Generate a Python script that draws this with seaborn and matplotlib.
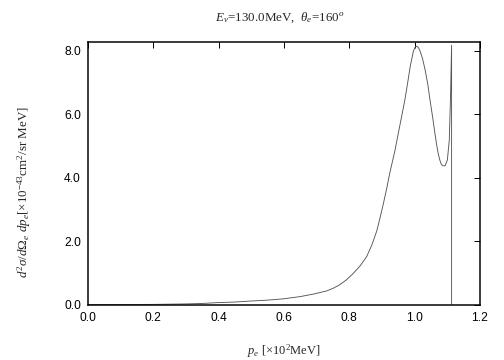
import matplotlib
matplotlib.use("Agg")
import matplotlib.pyplot as plt
import seaborn as sns
import pandas as pd

p_e = [0.0, 0.1, 0.2, 0.3, 0.35, 0.394, 0.45, 0.496, 0.55, 0.598, 0.649, 0.69, 0.731,
       0.750, 0.770, 0.790, 0.812, 0.833, 0.853, 0.869, 0.884, 0.894, 0.904, 0.914, 0.924,
       0.940, 0.950, 0.960, 0.970, 0.978, 0.986, 0.996, 1.001, 1.006, 1.011, 1.016,
       1.024, 1.032, 1.040, 1.047, 1.055, 1.062, 1.067, 1.072, 1.077, 1.082, 1.088,
       1.093, 1.100, 1.106, 1.110, 1.113, 1.113]
sigma = [0.0, 0.0, 0.005, 0.02, 0.035, 0.06, 0.08, 0.11, 0.14, 0.18, 0.25, 0.33, 0.43,
         0.51, 0.62, 0.77, 0.98, 1.22, 1.51, 1.88, 2.32, 2.73, 3.17, 3.64, 4.15,
         4.87, 5.40, 5.92, 6.45, 6.95, 7.48, 7.98, 8.10, 8.14, 8.10, 8.00,
         7.75, 7.39, 6.95, 6.44, 5.90, 5.39, 5.05, 4.76, 4.55, 4.41, 4.37,
         4.37, 4.55, 5.18, 6.65, 8.17, 0.0]

df = pd.DataFrame({"p": p_e, "s": sigma})

sns.set_style("white")
serif = "Liberation Serif"
plt.rcParams["mathtext.fontset"] = "custom"
plt.rcParams["mathtext.rm"] = serif
plt.rcParams["mathtext.it"] = serif + ":italic"

fig = plt.figure(figsize=(7, 5), dpi=72)
ax = fig.add_axes([0.1746, 0.154, 0.7778, 0.7293])
sns.lineplot(data=df, x="p", y="s", sort=False, estimator=None, color="#555555",
             linewidth=0.9, ax=ax)

ax.set_xlim(0, 1.2)
ax.set_ylim(0, 8.27)
ax.set_xticks([0.0, 0.2, 0.4, 0.6, 0.8, 1.0, 1.2])
ax.set_yticks([0.0, 2.0, 4.0, 6.0, 8.0])
ax.set_xticklabels(["0.0", "0.2", "0.4", "0.6", "0.8", "1.0", "1.2"])
ax.set_yticklabels(["0.0", "2.0", "4.0", "6.0", "8.0"])
ax.tick_params(direction="in", length=6, width=1, top=True, right=True,
               labelsize=12, pad=7, colors="black")
for lab in ax.get_xticklabels() + ax.get_yticklabels():
    lab.set_family("Liberation Sans")
for sp in ax.spines.values():
    sp.set_linewidth(1.5)
    sp.set_color("black")

ax.set_xlabel(r"$p_e$ [$\times$10$^2$MeV]", fontsize=12.5, family=serif)
ax.xaxis.set_label_coords(0.5, -0.145)
ax.set_ylabel(r"$d^2\sigma/d\Omega_e\ dp_e$[$\times$10$^{-43}$cm$^2$/sr MeV]",
              fontsize=13, family=serif)
ax.yaxis.set_label_coords(-0.14, 0.43)
fig.text(0.555, 0.952, r"$E_\nu$=130.0MeV,  $\theta_e$=160$^o$", fontsize=13,
         family=serif, ha="center", va="center")

fig.savefig("out.png", dpi=72)
